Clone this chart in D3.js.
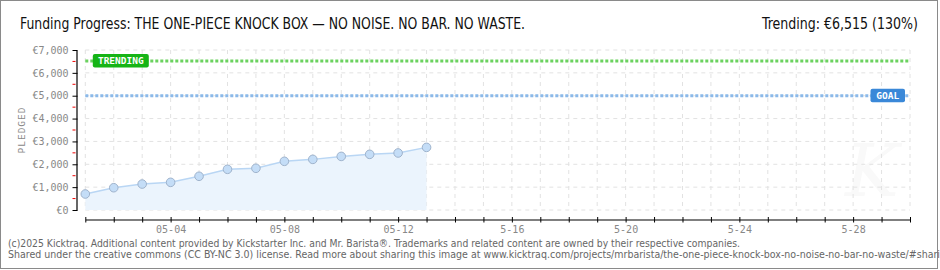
<!DOCTYPE html>
<html lang="en">
<head>
<meta charset="UTF-8">
<title>Funding Progress</title>
<script src="https://d3js.org/d3.v7.min.js"></script>
<style>
  body { margin: 0; background: #fff; }
  svg { display: block; }
  .tick text { font-family: "DejaVu Sans Mono", monospace; font-size: 10px; fill: #888; }
  .grid line { stroke: #e2e2e2; stroke-dasharray: 4,4; }
</style>
</head>
<body>
<svg id="chart"></svg>
<script>
// data
const days = ["2025-05-01","2025-05-02","2025-05-03","2025-05-04","2025-05-05","2025-05-06","2025-05-07",
              "2025-05-08","2025-05-09","2025-05-10","2025-05-11","2025-05-12","2025-05-13"];
const pledged = [700, 975, 1135, 1210, 1475, 1780, 1825, 2130, 2215, 2345, 2435, 2495, 2740];
const goal = 5000;
const trending = 6515;
const campaignStart = "2025-05-01";
const campaignEnd = "2025-05-30";
const xLabels = {"2025-05-04": "05-04", "2025-05-08": "05-08", "2025-05-12": "05-12",
                 "2025-05-16": "5-16", "2025-05-20": "5-20", "2025-05-24": "5-24", "2025-05-28": "5-28"};
const yTicks = [0, 1000, 2000, 3000, 4000, 5000, 6000, 7000];
const yMinor = [500, 1500, 2500, 3500, 4500, 5500, 6500];

const width = 940, height = 270;
const parse = d3.timeParse("%Y-%m-%d");
const fmtKey = d3.timeFormat("%Y-%m-%d");
const data = days.map((d, i) => ({ date: parse(d), value: pledged[i] }));

const svg = d3.select("#chart").attr("width", width).attr("height", height);

const x = d3.scaleTime().domain([parse(campaignStart), parse(campaignEnd)]).range([85.3, 910]);
const y = d3.scaleLinear().domain([0, 7000]).range([210, 50]);
const allDays = d3.timeDay.range(parse(campaignStart), d3.timeDay.offset(parse(campaignEnd), 1));

// frame
svg.append("rect").attr("x", 0.5).attr("y", 0.5).attr("width", 937).attr("height", 268)
   .attr("fill", "#fff").attr("stroke", "#8a8a8a");

// watermark
svg.append("text").attr("x", 872).attr("y", 196).attr("text-anchor", "middle")
   .style("font-family", "DejaVu Serif").style("font-style", "italic").style("font-size", "72px")
   .attr("fill", "#f9f9f9").text("K");

// grid
const grid = svg.append("g").attr("class", "grid");
grid.selectAll(".v").data(allDays).enter().append("line")
    .attr("x1", d => x(d)).attr("x2", d => x(d)).attr("y1", y(7000)).attr("y2", y(0));
grid.selectAll(".h").data(yTicks).enter().append("line")
    .attr("x1", x.range()[0]).attr("x2", x.range()[1]).attr("y1", d => y(d)).attr("y2", d => y(d));

// area + line
const area = d3.area().x(d => x(d.date)).y0(y(0)).y1(d => y(d.value));
const line = d3.line().x(d => x(d.date)).y(d => y(d.value));
svg.append("path").datum(data).attr("d", area).attr("fill", "#ebf4fd");
svg.append("path").datum(data).attr("d", line).attr("fill", "none")
   .attr("stroke", "#b9d6f4").attr("stroke-width", 1.5);

// goal and trending lines
function refLine(v, color) {
  svg.append("line").attr("x1", x.range()[0]).attr("x2", x.range()[1])
     .attr("y1", y(v)).attr("y2", y(v))
     .attr("stroke", color).attr("stroke-width", 3).attr("stroke-dasharray", "3,2");
}
refLine(trending, "#6bd25f");
refLine(goal, "#8bb9e9");

function badge(xLeft, v, w, label, color) {
  const g = svg.append("g").attr("transform", `translate(${xLeft},${y(v) - 7})`);
  g.append("rect").attr("width", w).attr("height", 13.5).attr("rx", 2).attr("fill", color);
  g.append("text").attr("x", w / 2).attr("y", 10.3).attr("text-anchor", "middle")
   .style("font-family", "DejaVu Sans Mono").style("font-size", "9.5px").style("font-weight", "bold")
   .attr("fill", "#fff").text(label);
}
badge(x.range()[0] + 7.5, trending, 56, "TRENDING", "#16b416");
badge(x.range()[1] - 39.5, goal, 34.5, "GOAL", "#3a88d8");

// points
svg.selectAll(".dot").data(data).enter().append("circle")
   .attr("cx", d => x(d.date)).attr("cy", d => y(d.value)).attr("r", 4.3)
   .attr("fill", "#c4ddf7").attr("stroke", "#9fb3cc").attr("stroke-width", 1);

// x axis
const xAxis = d3.axisBottom(x).tickValues(allDays).tickSizeInner(3).tickSizeOuter(0)
  .tickFormat(d => xLabels[fmtKey(d)] || "");
const gx = svg.append("g").attr("transform", "translate(0,219.5)").call(xAxis);
gx.select(".domain").attr("stroke", "#000").attr("stroke-width", 1.2);
gx.selectAll(".tick line").attr("y1", -2.5).attr("y2", 3).attr("stroke", "#000");
gx.selectAll(".tick text").attr("y", 6);

// y axis
const yAxis = d3.axisLeft(y).tickValues(yTicks).tickSizeInner(4).tickSizeOuter(0)
  .tickFormat(d => "€" + d3.format(",")(d));
const gy = svg.append("g").attr("transform", "translate(76.5,0)").call(yAxis);
gy.select(".domain").attr("stroke", "#000").attr("stroke-width", 1.2);
gy.selectAll(".tick line").attr("x1", 1).attr("x2", -4).attr("stroke", "#000");
gy.selectAll(".tick text").attr("x", -8);
gy.selectAll(".minor").data(yMinor).enter().append("line")
  .attr("x1", -4).attr("x2", -1).attr("y1", d => y(d)).attr("y2", d => y(d))
  .attr("stroke", "#e00").attr("stroke-width", 1);

svg.append("text").attr("transform", `translate(25,${(y(0) + y(7000)) / 2}) rotate(-90)`)
   .attr("text-anchor", "middle")
   .style("font-family", "DejaVu Sans Mono").style("font-size", "9.5px").style("letter-spacing", "1px")
   .attr("fill", "#888").text("PLEDGED");

// title
svg.append("text").attr("x", 20).attr("y", 28.5)
   .style("font-family", "DejaVu Sans Condensed, DejaVu Sans").style("font-stretch", "condensed")
   .style("font-size", "15px").attr("fill", "#111")
   .attr("textLength", 505).attr("lengthAdjust", "spacingAndGlyphs")
   .text("Funding Progress: THE ONE-PIECE KNOCK BOX — NO NOISE. NO BAR. NO WASTE.");
svg.append("text").attr("x", 762).attr("y", 28.5)
   .style("font-family", "DejaVu Sans Condensed, DejaVu Sans").style("font-stretch", "condensed")
   .style("font-size", "15px").attr("fill", "#111")
   .attr("textLength", 156).attr("lengthAdjust", "spacingAndGlyphs")
   .text(`Trending: €${d3.format(",")(trending)} (${Math.round(trending / goal * 100)}%)`);

// footer
const foot = svg.append("g").style("font-family", "DejaVu Sans Condensed, DejaVu Sans")
  .style("font-stretch", "condensed").style("font-size", "10.2px").attr("fill", "#666");
foot.append("text").attr("x", 8).attr("y", 247)
   .attr("textLength", 732).attr("lengthAdjust", "spacingAndGlyphs")
   .text("(c)2025 Kicktraq. Additional content provided by Kickstarter Inc. and Mr. Barista®. Trademarks and related content are owned by their respective companies.");
foot.append("text").attr("x", 8).attr("y", 257.5)
   .attr("textLength", 944).attr("lengthAdjust", "spacingAndGlyphs")
   .text("Shared under the creative commons (CC BY-NC 3.0) license. Read more about sharing this image at www.kicktraq.com/projects/mrbarista/the-one-piece-knock-box-no-noise-no-bar-no-waste/#sharing");
</script>
</body>
</html>
